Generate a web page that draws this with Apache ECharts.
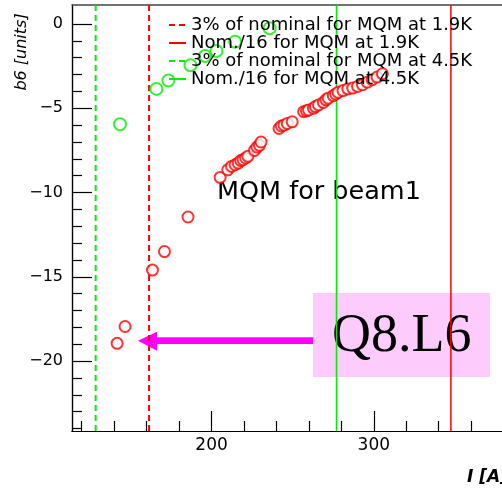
<!DOCTYPE html>
<html>
<head>
<meta charset="utf-8">
<script src="https://cdn.jsdelivr.net/npm/echarts@6/dist/echarts.min.js"></script>
<style>
  html, body { margin: 0; padding: 0; background: #fff; }
  #chart { width: 502px; height: 488px; }
</style>
</head>
<body>
<div id="chart"></div>
<script>
// Axis ranges (current in A, b6 in units)
const xMin = 114, xMax = 379;
const yMin = -24.15, yMax = 1.13;

// Tick positions and labels
const xMajorTicks = [200, 300];
const xMinorTicks = [120, 140, 160, 180, 220, 240, 260, 280, 320, 340, 360];
const yMajorTicks = [0, -5, -10, -15, -20];
const yMinorTicks = [-1, -2, -3, -4, -6, -7, -8, -9, -11, -12, -13, -14, -16, -17, -18, -19, -21, -22, -23, -24];

// Current limits drawn as vertical lines
const limitNames = [
  '3% of nominal for MQM at 1.9K',
  'Nom./16 for MQM at 1.9K',
  '3% of nominal for MQM at 4.5K',
  'Nom./16 for MQM at 4.5K'
];
const limitCurrents = [161.5, 347.5, 128.6, 277];
const limitColors = ['#ff0000', '#ff0000', '#00ee00', '#00ee00'];
const limitDashed = [true, false, true, false];

// Measured b6 vs current, MQM magnets at 4.5 K (green)
const green45K = [
  [143.6, -5.95], [166, -3.85], [173.4, -3.35], [187, -2.45],
  [196, -1.9], [203, -1.6], [214.5, -1.05], [235.8, -0.25]
];

// Measured b6 vs current, MQM magnets at 1.9 K (red)
const red19K = [
  [141.8, -18.95], [146.7, -17.95], [163.6, -14.6], [171, -13.5], [185.5, -11.45],
  [205.3, -9.1], [210, -8.65], [212.3, -8.45], [214.5, -8.35], [216.4, -8.25],
  [218, -8.1], [219.4, -8.05], [221, -7.95], [222.4, -7.85], [226.5, -7.5],
  [228, -7.3], [229.5, -7.2], [230.5, -7.0], [241.6, -6.2], [243, -6.05],
  [244.7, -6.0], [246.7, -5.9], [249.7, -5.8], [256.8, -5.2], [258.5, -5.15],
  [259.8, -5.1], [262.8, -5.0], [264, -4.9], [265.9, -4.8], [268.9, -4.65],
  [270.5, -4.5], [271.9, -4.4], [275, -4.25], [276.5, -4.15], [278, -4.05],
  [281, -3.95], [284, -3.85], [287, -3.8], [290, -3.7], [293, -3.6],
  [296, -3.45], [299, -3.3], [302, -3.15], [305.3, -2.95]
];

const FONT = 'DejaVu Sans';
const minus = v => (v < 0 ? '\u2212' + Math.abs(v) : String(v));

const chart = echarts.init(document.getElementById('chart'), null, { renderer: 'canvas' });

const baseX = {
  type: 'value', min: xMin, max: xMax, gridIndex: 0,
  splitLine: { show: false },
  axisLine: { show: true, onZero: false, lineStyle: { color: '#000', width: 1.2 } }
};
const baseY = {
  type: 'value', min: yMin, max: yMax, gridIndex: 0,
  splitLine: { show: false },
  axisLine: { show: true, onZero: false, lineStyle: { color: '#000', width: 1.2 } }
};

const limitSeries = limitNames.map((name, i) => ({
  name: name,
  type: 'line',
  xAxisIndex: 0, yAxisIndex: 0,
  symbol: 'none',
  showSymbol: false,
  silent: true,
  z: 2,
  lineStyle: {
    color: limitColors[i],
    width: limitDashed[i] ? 2 : 1.5,
    type: limitDashed[i] ? [6, 4] : 'solid'
  },
  itemStyle: { color: limitColors[i] },
  data: [[limitCurrents[i], yMin], [limitCurrents[i], yMax]]
}));

const option = {
  animation: false,
  backgroundColor: '#ffffff',
  grid: { left: 72, right: -6, top: 5, bottom: 57, containLabel: false },
  xAxis: [
    Object.assign({}, baseX, {
      position: 'bottom',
      axisTick: { show: true, inside: true, length: 20, customValues: xMajorTicks, lineStyle: { color: '#000', width: 1.2 } },
      axisLabel: { show: true, customValues: xMajorTicks, margin: 6, color: '#000', fontFamily: FONT, fontSize: 17 }
    }),
    Object.assign({}, baseX, {
      position: 'bottom',
      axisTick: { show: true, inside: true, length: 10, customValues: xMinorTicks, lineStyle: { color: '#000', width: 1.2 } },
      axisLabel: { show: false }
    }),
    Object.assign({}, baseX, {
      position: 'top',
      axisLine: { show: true, onZero: false, lineStyle: { color: '#444', width: 1.5 } },
      axisTick: { show: false },
      axisLabel: { show: false }
    })
  ],
  yAxis: [
    Object.assign({}, baseY, {
      position: 'left',
      axisTick: { show: true, inside: true, length: 20, customValues: yMajorTicks, lineStyle: { color: '#000', width: 1.2 } },
      axisLabel: { show: true, customValues: yMajorTicks, margin: 9, color: '#000', fontFamily: FONT, fontSize: 16, formatter: minus }
    }),
    Object.assign({}, baseY, {
      position: 'left',
      axisTick: { show: true, inside: true, length: 10, customValues: yMinorTicks, lineStyle: { color: '#000', width: 1.2 } },
      axisLabel: { show: false }
    })
  ],
  legend: {
    show: true,
    orient: 'vertical',
    left: 163,
    top: 11,
    itemWidth: 17,
    itemHeight: 10,
    itemGap: 0,
    selectedMode: false,
    data: limitNames,
    itemStyle: { opacity: 0 },
    textStyle: { color: '#000', fontFamily: FONT, fontSize: 18, lineHeight: 18 }
  },
  series: limitSeries.concat([
    {
      name: 'MQM 4.5K',
      type: 'scatter',
      xAxisIndex: 0, yAxisIndex: 0,
      symbol: 'emptyCircle',
      symbolSize: 12,
      z: 3,
      itemStyle: { color: '#00ee00', borderColor: '#00ee00', borderWidth: 1.3 },
      data: green45K
    },
    {
      name: 'MQM 1.9K',
      type: 'scatter',
      xAxisIndex: 0, yAxisIndex: 0,
      symbol: 'emptyCircle',
      symbolSize: 11,
      z: 3,
      itemStyle: { color: '#ff0000', borderColor: '#ff0000', borderWidth: 1.3 },
      data: red19K
    }
  ]),
  graphic: [
    {
      type: 'text', x: 22, y: 52, rotation: Math.PI / 2,
      style: { text: 'b6 [units]', fill: '#000', font: 'italic 16px "DejaVu Sans"', align: 'center', verticalAlign: 'middle' }
    },
    {
      type: 'text', x: 467, y: 478,
      style: { text: 'I [A]', fill: '#000', font: 'italic bold 17px "DejaVu Sans"', align: 'left', verticalAlign: 'middle' }
    },
    {
      type: 'text', x: 217, y: 192,
      style: { text: 'MQM for beam1', fill: '#000', font: '25.5px "DejaVu Sans"', align: 'left', verticalAlign: 'middle' }
    },
    {
      type: 'rect', shape: { x: 157, y: 337.3, width: 157, height: 6.7 },
      style: { fill: '#ff00ff' }
    },
    {
      type: 'polygon', shape: { points: [[138, 340.7], [157, 331.7], [157, 350.7]] },
      style: { fill: '#ff00ff' }
    },
    {
      type: 'rect', shape: { x: 313, y: 293, width: 177, height: 84 },
      style: { fill: '#fdccfd' }
    },
    {
      type: 'text', x: 401.7, y: 337,
      style: { text: 'Q8.L6', fill: '#000', font: '54px "Liberation Serif"', align: 'center', verticalAlign: 'middle' }
    }
  ]
};

chart.setOption(option);
</script>
</body>
</html>
